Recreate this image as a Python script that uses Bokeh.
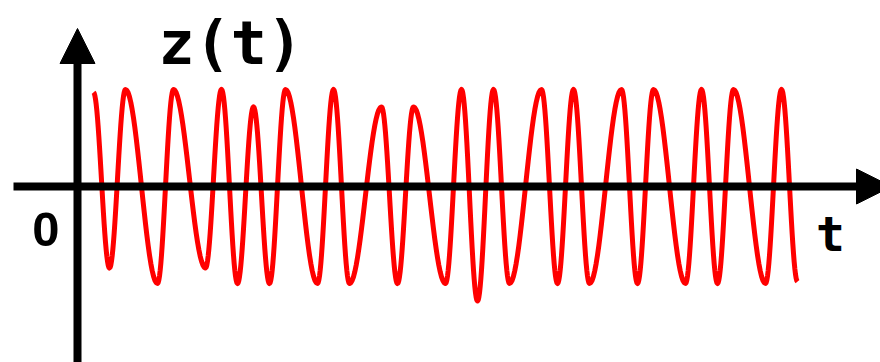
import numpy as np
from bokeh.plotting import figure
from bokeh.models import Range1d, Arrow, NormalHead, Label
from bokeh.embed import file_html
from bokeh.resources import INLINE

# Turning points of the signal z(t): time (in samples) and amplitude
t_ext = [1, 2, 3, 5, 6, 8, 9, 10, 11, 12, 13, 15, 16, 17, 19, 20, 21, 23,
         24, 25, 26, 27, 29, 30, 31, 32, 34, 35, 36, 38, 39, 40, 41, 43, 44, 45]
z_ext = [0.97, -0.84, 1, -1, 1, -0.84, 1, -1, 0.82, -1, 1, -1, 1, -1, 0.82, -1, 0.82, -1,
         1, -1.18, 1, -1, 1, -1, 1, -1, 1, -1, 1, -1, 1, -1, 1, -1, 1, -0.98]

# Join consecutive turning points with half-cosine arcs
ts, zs = [], []
for i in range(len(t_ext) - 1):
    s = np.linspace(0.0, 1.0, 25)
    if i > 0:
        s = s[1:]
    t0, t1 = t_ext[i], t_ext[i + 1]
    z0, z1 = z_ext[i], z_ext[i + 1]
    ts.extend(t0 + (t1 - t0) * s)
    zs.extend(z0 + (z1 - z0) * (1 - np.cos(np.pi * s)) / 2)

W, H = 880, 362
PX_T = 16.0   # pixels per time unit
PX_Z = 97.0   # pixels per amplitude unit
X0, Y0 = 77.0, 186.0  # origin position on the canvas (from top-left)

p = figure(width=W, height=H, output_backend="svg", toolbar_location=None,
           x_axis_type=None, y_axis_type=None, min_border=0,
           x_range=Range1d(-X0 / PX_T, (W - X0) / PX_T),
           y_range=Range1d(-(H - Y0) / PX_Z, Y0 / PX_Z))
p.outline_line_color = None
p.background_fill_color = "white"
p.border_fill_color = "white"

p.line(ts, zs, line_color="red", line_width=5, line_cap="butt", line_join="round")

# Coordinate axes with arrow heads
head_t = NormalHead(size=35, fill_color="black", line_color="black", line_width=1)
p.add_layout(Arrow(end=head_t, x_start=(13 - X0) / PX_T, y_start=0,
                   x_end=(891 - X0) / PX_T, y_end=0,
                   line_width=8, line_color="black", line_cap="butt"))
head_z = NormalHead(size=35, fill_color="black", line_color="black", line_width=1)
p.add_layout(Arrow(end=head_z, x_start=0, y_start=-(H - Y0 + 10) / PX_Z,
                   x_end=0, y_end=(Y0 - 28) / PX_Z,
                   line_width=8, line_color="black", line_cap="butt"))

mono = "DejaVu Sans Mono"
p.add_layout(Label(x=158, y=H - 42, x_units="screen", y_units="screen", text="z(t)",
                   text_font=mono, text_font_style="bold", text_font_size="60px",
                   text_color="black", text_baseline="alphabetic"))
p.add_layout(Label(x=45.5, y=H - 229, x_units="screen", y_units="screen", text="0",
                   text_font="Liberation Sans", text_font_style="bold", text_font_size="49px",
                   text_align="center", text_color="black", text_baseline="alphabetic"))
p.add_layout(Label(x=830, y=H - 233, x_units="screen", y_units="screen", text="t",
                   text_font=mono, text_font_style="bold", text_font_size="48px",
                   text_align="center", text_color="black", text_baseline="alphabetic"))

open("out.html", "w").write(file_html(p, INLINE))
